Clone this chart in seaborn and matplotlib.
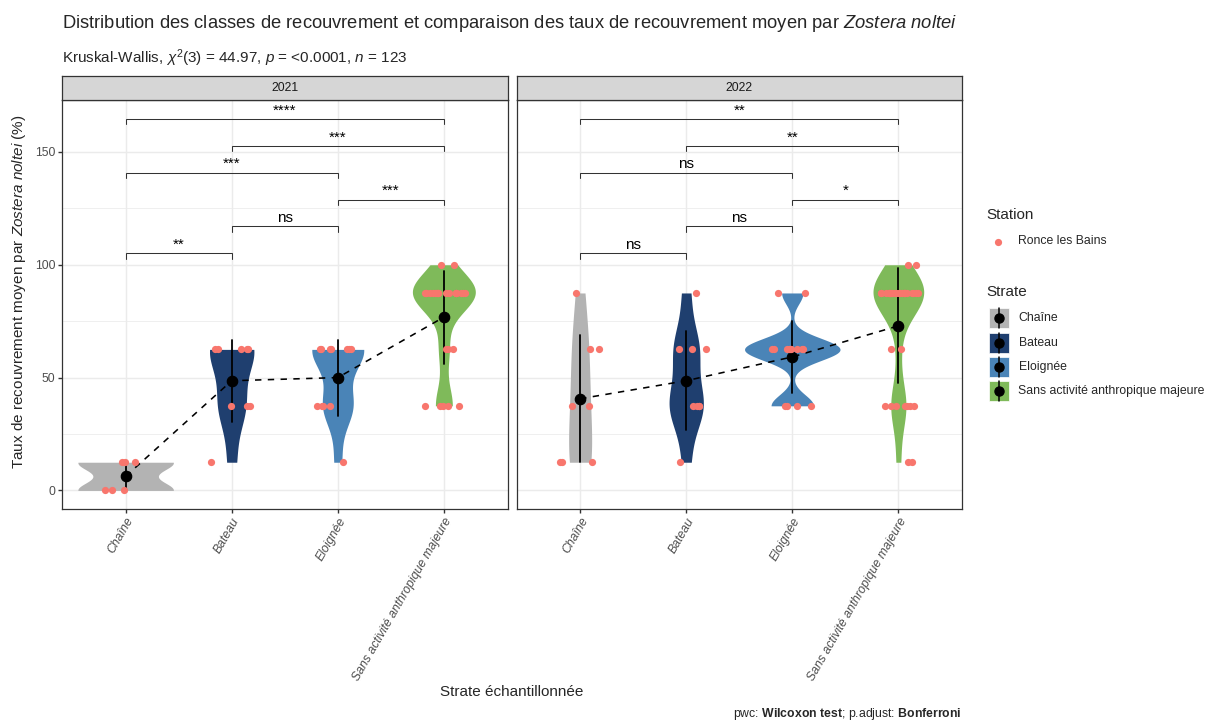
import numpy as np
import pandas as pd
import matplotlib
matplotlib.use("Agg")
import matplotlib.pyplot as plt
import seaborn as sns
from matplotlib.patches import Rectangle

# ---------------------------------------------------------------- data
strates = ["Chaîne", "Bateau", "Eloignée", "Sans activité anthropique majeure"]
strate_colors = ["#B3B3B3", "#1F3F6F", "#4A84B7", "#7FBA5A"]
years = ["2021", "2022"]
cover_classes = [0.0, 12.5, 37.5, 62.5, 87.5, 100.0]   # mid-point of each cover class (%)

# number of quadrats falling in each cover class, per strate and year
n_2021_chaine = [3, 3, 0, 0, 0, 0]
n_2021_bateau = [0, 1, 3, 5, 0, 0]
n_2021_eloignee = [0, 1, 4, 7, 0, 0]
n_2021_sans = [0, 0, 5, 3, 18, 2]
n_2022_chaine = [0, 3, 2, 2, 1, 0]
n_2022_bateau = [0, 1, 4, 3, 1, 0]
n_2022_eloignee = [0, 0, 4, 9, 2, 0]
n_2022_sans = [0, 2, 7, 2, 23, 2]

# pairwise Wilcoxon tests (Bonferroni), as pairs of strate indices
pairs = [(0, 1), (1, 2), (2, 3), (0, 2), (1, 3), (0, 3)]
signif_2021 = ["**", "ns", "***", "***", "***", "****"]
signif_2022 = ["ns", "ns", "*", "ns", "**", "**"]

station = "Ronce les Bains"
point_color = "#F8766D"

counts = {
    "2021": [n_2021_chaine, n_2021_bateau, n_2021_eloignee, n_2021_sans],
    "2022": [n_2022_chaine, n_2022_bateau, n_2022_eloignee, n_2022_sans],
}
signif = {"2021": signif_2021, "2022": signif_2022}

rows = []
for yr in years:
    for s, cnt in zip(strates, counts[yr]):
        for v, k in zip(cover_classes, cnt):
            rows += [(yr, s, station, v)] * k
df = pd.DataFrame(rows, columns=["Annee", "Strate", "Station", "Recouvrement"])


def nrd0(kde):
    """Silverman's rule of thumb (R's bw.nrd0), as a factor of the sample sd."""
    x = np.asarray(kde.dataset).ravel()
    sd = x.std(ddof=1)
    q75, q25 = np.percentile(x, [75, 25])
    lo = min(sd, (q75 - q25) / 1.34)
    if lo <= 0:
        lo = sd
    return 0.9 * lo * len(x) ** -0.2 / sd


# ---------------------------------------------------------------- style
sns.set_style("white")
plt.rcParams.update({
    "font.family": ["Liberation Sans", "DejaVu Sans"],
    "mathtext.fontset": "custom",
    "mathtext.rm": "Liberation Sans",
    "mathtext.it": "Liberation Sans:italic",
    "mathtext.bf": "Liberation Sans:bold",
})

W, H = 1206, 720
fig = plt.figure(figsize=(W / 100, H / 100), dpi=100)
fig.patch.set_facecolor("white")


def fx(px):
    return px / W


def fy(py):
    return 1 - py / H


panel_x = [(62, 507.5), (516.5, 962)]
panel_top, panel_bottom, strip_top = 100, 508.5, 76
border = "#333333"

bracket_base, bracket_step, tip = 105.0, 11.95, 2.6

np.random.seed(11)
for i, yr in enumerate(years):
    x0, x1 = panel_x[i]
    ax = fig.add_axes([fx(x0), fy(panel_bottom), (x1 - x0) / W,
                       (panel_bottom - panel_top) / H])
    d = df[df["Annee"] == yr]

    sns.violinplot(data=d, x="Strate", y="Recouvrement", hue="Strate",
                   order=strates, hue_order=strates, palette=strate_colors,
                   saturation=1, cut=0, gridsize=512, inner=None, linewidth=0,
                   density_norm="area", common_norm=True, width=0.9,
                   bw_method=nrd0, legend=False, ax=ax)
    sns.stripplot(data=d, x="Strate", y="Recouvrement", order=strates,
                  color=point_color, size=5.2, jitter=0.2, linewidth=0, ax=ax)
    sns.pointplot(data=d, x="Strate", y="Recouvrement", order=strates,
                  estimator="mean", errorbar="sd", color="black", markers="o",
                  linestyles="--", dashes=(4, 4), linewidth=1.15, markersize=7.5,
                  err_kws={"linewidth": 1.3}, ax=ax)

    # significance brackets
    for k, ((a, b), lab) in enumerate(zip(pairs, signif[yr])):
        yb = bracket_base + k * bracket_step
        ax.plot([a, a, b, b], [yb - tip, yb, yb, yb - tip],
                color="#333333", lw=0.75, zorder=3, solid_joinstyle="miter")
        ax.text((a + b) / 2, yb + 1.9, lab, ha="center", va="baseline",
                fontsize=11, color="black")

    ax.set_xlim(-0.6, 3.6)
    ax.set_ylim(-8, 173)
    ax.set_xlabel("")
    ax.set_ylabel("")
    ax.set_xticks(range(len(strates)))
    ax.set_xticklabels(strates, rotation=60, ha="right", va="top",
                       rotation_mode="anchor", style="italic")
    ax.set_yticks([0, 50, 100, 150])
    ax.set_yticks([25, 75, 125], minor=True)
    ax.grid(which="major", color="#EBEBEB", lw=1.07)
    ax.grid(which="minor", axis="y", color="#EBEBEB", lw=0.55)
    ax.set_axisbelow(True)
    ax.tick_params(which="major", length=2.75, width=1.0, color=border,
                   labelcolor="#4D4D4D", labelsize=8.8, pad=2.2)
    ax.tick_params(which="minor", length=0)
    ax.tick_params(axis="x", bottom=True)
    ax.tick_params(axis="y", left=(i == 0), labelleft=(i == 0))
    for sp in ax.spines.values():
        sp.set_visible(True)
        sp.set_color(border)
        sp.set_linewidth(0.9)

    # facet strip
    sax = fig.add_axes([fx(x0), fy(panel_top), (x1 - x0) / W,
                        (panel_top - strip_top) / H])
    sax.set_facecolor("#D6D6D6")
    sax.set_xticks([])
    sax.set_yticks([])
    for sp in sax.spines.values():
        sp.set_visible(True)
        sp.set_color(border)
        sp.set_linewidth(0.9)
    sax.text(0.5, 0.5, yr, ha="center", va="center", fontsize=8.8,
             color="#1A1A1A", transform=sax.transAxes)

# ---------------------------------------------------------------- titles
fig.text(fx(62), fy(23.5),
         r"Distribution des classes de recouvrement et comparaison des taux de "
         r"recouvrement moyen par $\mathit{Zostera\ noltei}$",
         fontsize=13.2, ha="left", va="center")
fig.text(fx(62), fy(58),
         r"Kruskal-Wallis, $\chi^2$(3) = 44.97, $\mathit{p}$ = <0.0001, "
         r"$\mathit{n}$ = 123",
         fontsize=11, ha="left", va="center")
fig.text(fx(19), fy(292),
         r"Taux de recouvrement moyen par $\mathit{Zostera\ noltei}$ (%)",
         fontsize=11, rotation=90, ha="center", va="center")
fig.text(fx(512), fy(692), "Strate échantillonnée", fontsize=11,
         ha="center", va="center")
fig.text(fx(962), fy(714),
         r"pwc: $\mathbf{Wilcoxon\ test}$; p.adjust: $\mathbf{Bonferroni}$",
         fontsize=8.8, ha="right", va="center")

# ---------------------------------------------------------------- legends
lax = fig.add_axes([0, 0, 1, 1], zorder=-1)
lax.set_xlim(0, W)
lax.set_ylim(H, 0)
lax.axis("off")

lax.text(986.5, 215, "Station", fontsize=11, va="center", ha="left")
lax.scatter([998], [241.5], s=27, color=point_color, linewidths=0)
lax.text(1018.5, 241.5, station, fontsize=8.8, va="center", ha="left")

lax.text(986.5, 291.5, "Strate", fontsize=11, va="center", ha="left")
for j, (s, c) in enumerate(zip(strates, strate_colors)):
    yc = 318.3 + 24.2 * j
    lax.add_patch(Rectangle((988.5, yc - 10), 20, 20, facecolor=c,
                            edgecolor="white", lw=0.5))
    lax.plot([998.5, 998.5], [yc - 10, yc + 10], color="black", lw=1.1)
    lax.plot([998.5], [yc], marker="o", color="black", markersize=6.5)
    lax.text(1018.5, yc, s, fontsize=8.8, va="center", ha="left")

fig.savefig("out.png", dpi=100, facecolor="white")
